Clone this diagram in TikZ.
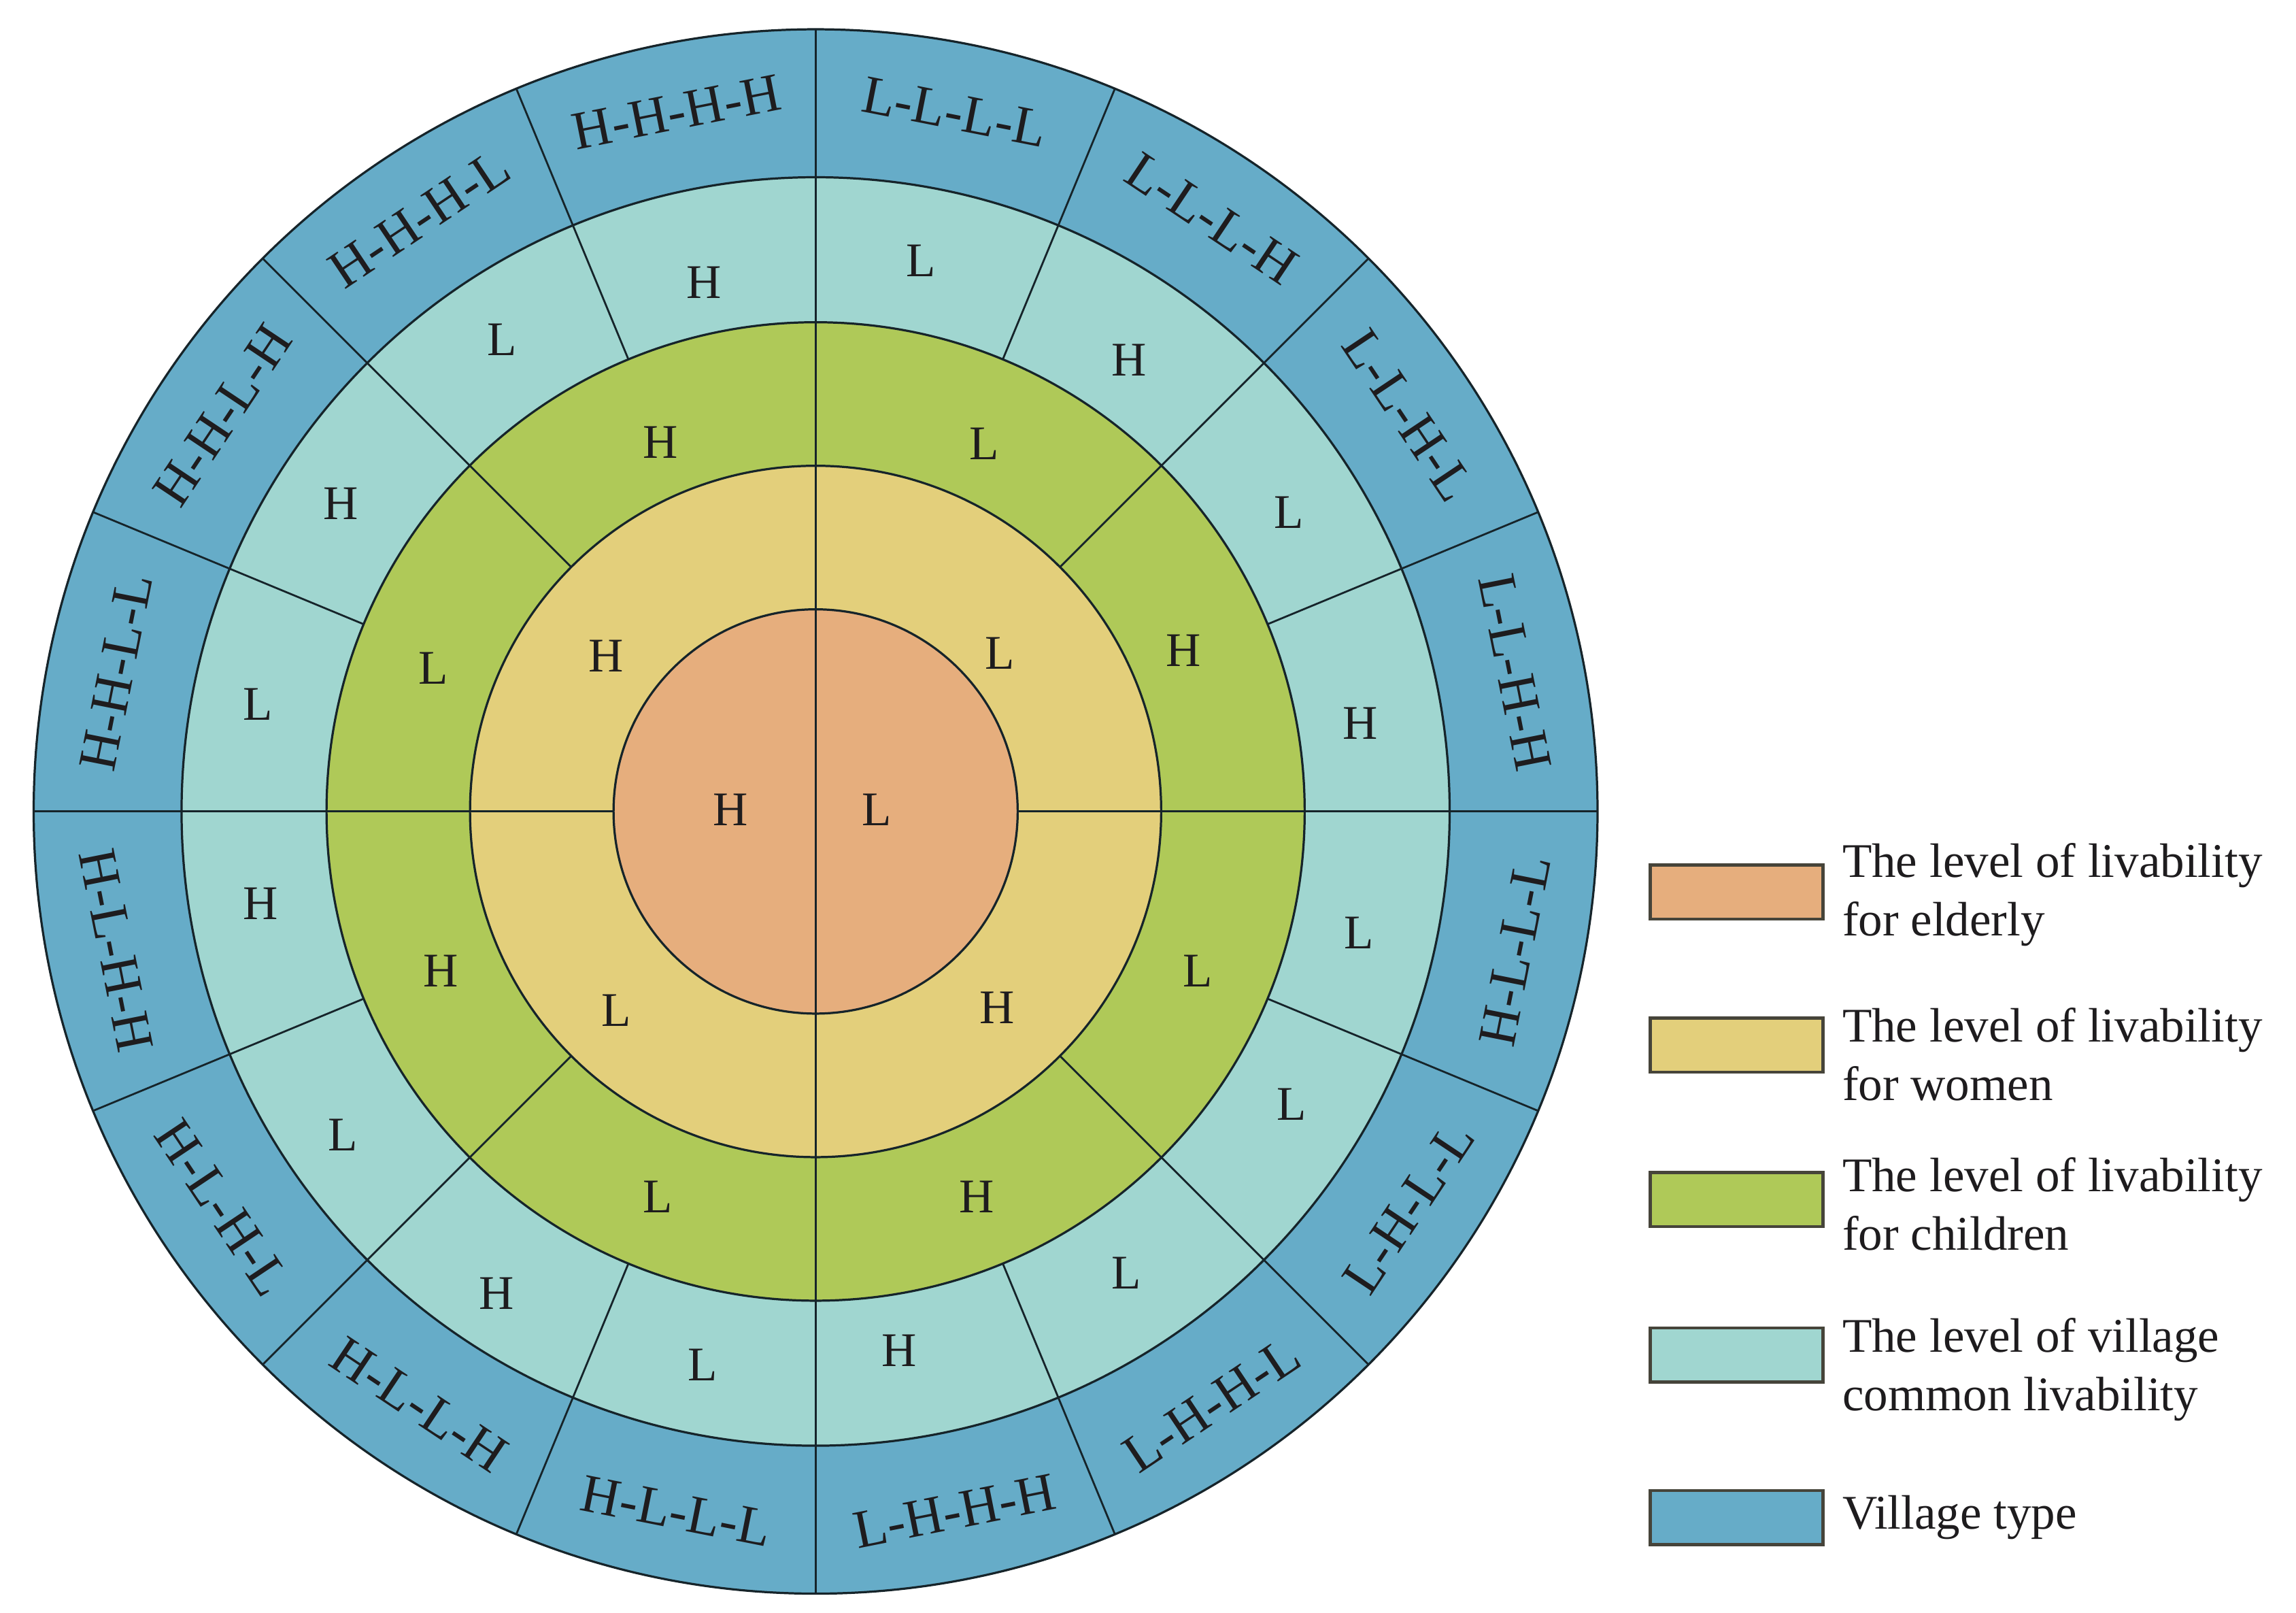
\documentclass[tikz,border=0pt]{standalone}
\usepackage{fontspec}
\setmainfont{Liberation Serif}
\definecolor{celder}{RGB}{230,174,125}
\definecolor{cwomen}{RGB}{227,207,123}
\definecolor{cchild}{RGB}{175,201,88}
\definecolor{ccommon}{RGB}{160,214,208}
\definecolor{cvillage}{RGB}{102,172,200}
\definecolor{cline}{RGB}{22,36,42}
\definecolor{legline}{RGB}{70,68,58}
\definecolor{ctext}{RGB}{30,28,30}
\begin{document}
\begin{tikzpicture}[x=1pt,y=1pt,
  ring/.style={draw=cline, line width=1.5pt},
  sep/.style={draw=cline, line width=1.3pt},
  lett/.style={font=\fontsize{33}{33}\selectfont, text=ctext, inner sep=0pt},
  vtype/.style={font=\fontsize{37}{37}\selectfont, text=ctext, inner sep=0pt},
  legbox/.style={draw=legline, line width=2pt, minimum width=118pt, minimum height=37pt, inner sep=0pt},
  legtext/.style={font=\fontsize{33}{40}\selectfont, text=ctext, align=left, anchor=west, inner sep=0pt}
]
\useasboundingbox (-557,-547) rectangle (1011,554);
% rings
\fill[cvillage] (0,0) circle (534);
\fill[ccommon] (0,0) circle (433);
\fill[cchild] (0,0) circle (334);
\fill[cwomen] (0,0) circle (236);
\fill[celder] (0,0) circle (138);
\foreach \r in {534,433,334,236,138} \draw[ring] (0,0) circle (\r);
% separators
\draw[sep] (90:534) -- (-90:534);
\draw[sep] (0:138) -- (0:534);
\draw[sep] (180:138) -- (180:534);
\foreach \a in {45,135,225,315} \draw[sep] (\a:236) -- (\a:534);
\foreach \a in {22.5,67.5,...,337.5} \draw[sep] (\a:334) -- (\a:534);
% elderly
\node[lett] (e1) at (-58,1) {H};
\node[lett] (e2) at (42,1) {L};
% women
\foreach \x/\y/\t [count=\i] in {-143/106/H, 126/108/L, 124/-134/H, -136/-136/L}
  \node[lett] (w\i) at (\x,\y) {\t};
% children
\foreach \x/\y/\t [count=\i] in {115/251/L, 251/110/H, 261/-109/L, 110/-263/H,
  -108/-263/L, -256/-109/H, -261/98/L, -106/252/H}
  \node[lett] (k\i) at (\x,\y) {\t};
% village common
\foreach \x/\y/\t [count=\i] in {72/376/L, 214/308/H, 323/204/L, 372/60/H,
  371/-83/L, 325/-200/L, 212/-315/L, 57/-368/H, -77/-378/L, -218/-329/H,
  -323/-221/L, -379/-63/H, -381/73/L, -324/210/H, -214/322/L, -76/361/H}
  \node[lett] (c\i) at (\x,\y) {\t};
% village type
\foreach \t [count=\i from 0] in {L-L-L-L, L-L-L-H, L-L-H-L, L-L-H-H,
  H-L-L-L, L-H-L-L, L-H-H-L, L-H-H-H, H-L-L-L, H-L-L-H, H-L-H-L, H-L-H-H,
  H-H-L-L, H-H-L-H, H-H-H-L, H-H-H-H}{
  \pgfmathsetmacro\ang{78.75-22.5*\i}
  \pgfmathsetmacro\rot{ifthenelse(and(\i>3,\i<12), \ang+90, \ang-90)}
  \node[vtype, rotate=\rot] (v\i) at (\ang:487) {\t};
}
% legend
\node[legbox, fill=celder]   (b1) at (629,-55) {};
\node[legbox, fill=cwomen]   (b2) at (629,-159.5) {};
\node[legbox, fill=cchild]   (b3) at (629,-265) {};
\node[legbox, fill=ccommon]  (b4) at (629,-371) {};
\node[legbox, fill=cvillage] (b5) at (629,-482) {};
\node[legtext] (t1) at (701,-57) {The level of livability\\for elderly};
\node[legtext] (t2) at (701,-166) {The level of livability\\for women};
\node[legtext] (t3) at (701,-268) {The level of livability\\for children};
\node[legtext] (t4) at (701,-381) {The level of village\\common livability};
\node[legtext] (t5) at (701,-482) {Village type};
\end{tikzpicture}
\end{document}
